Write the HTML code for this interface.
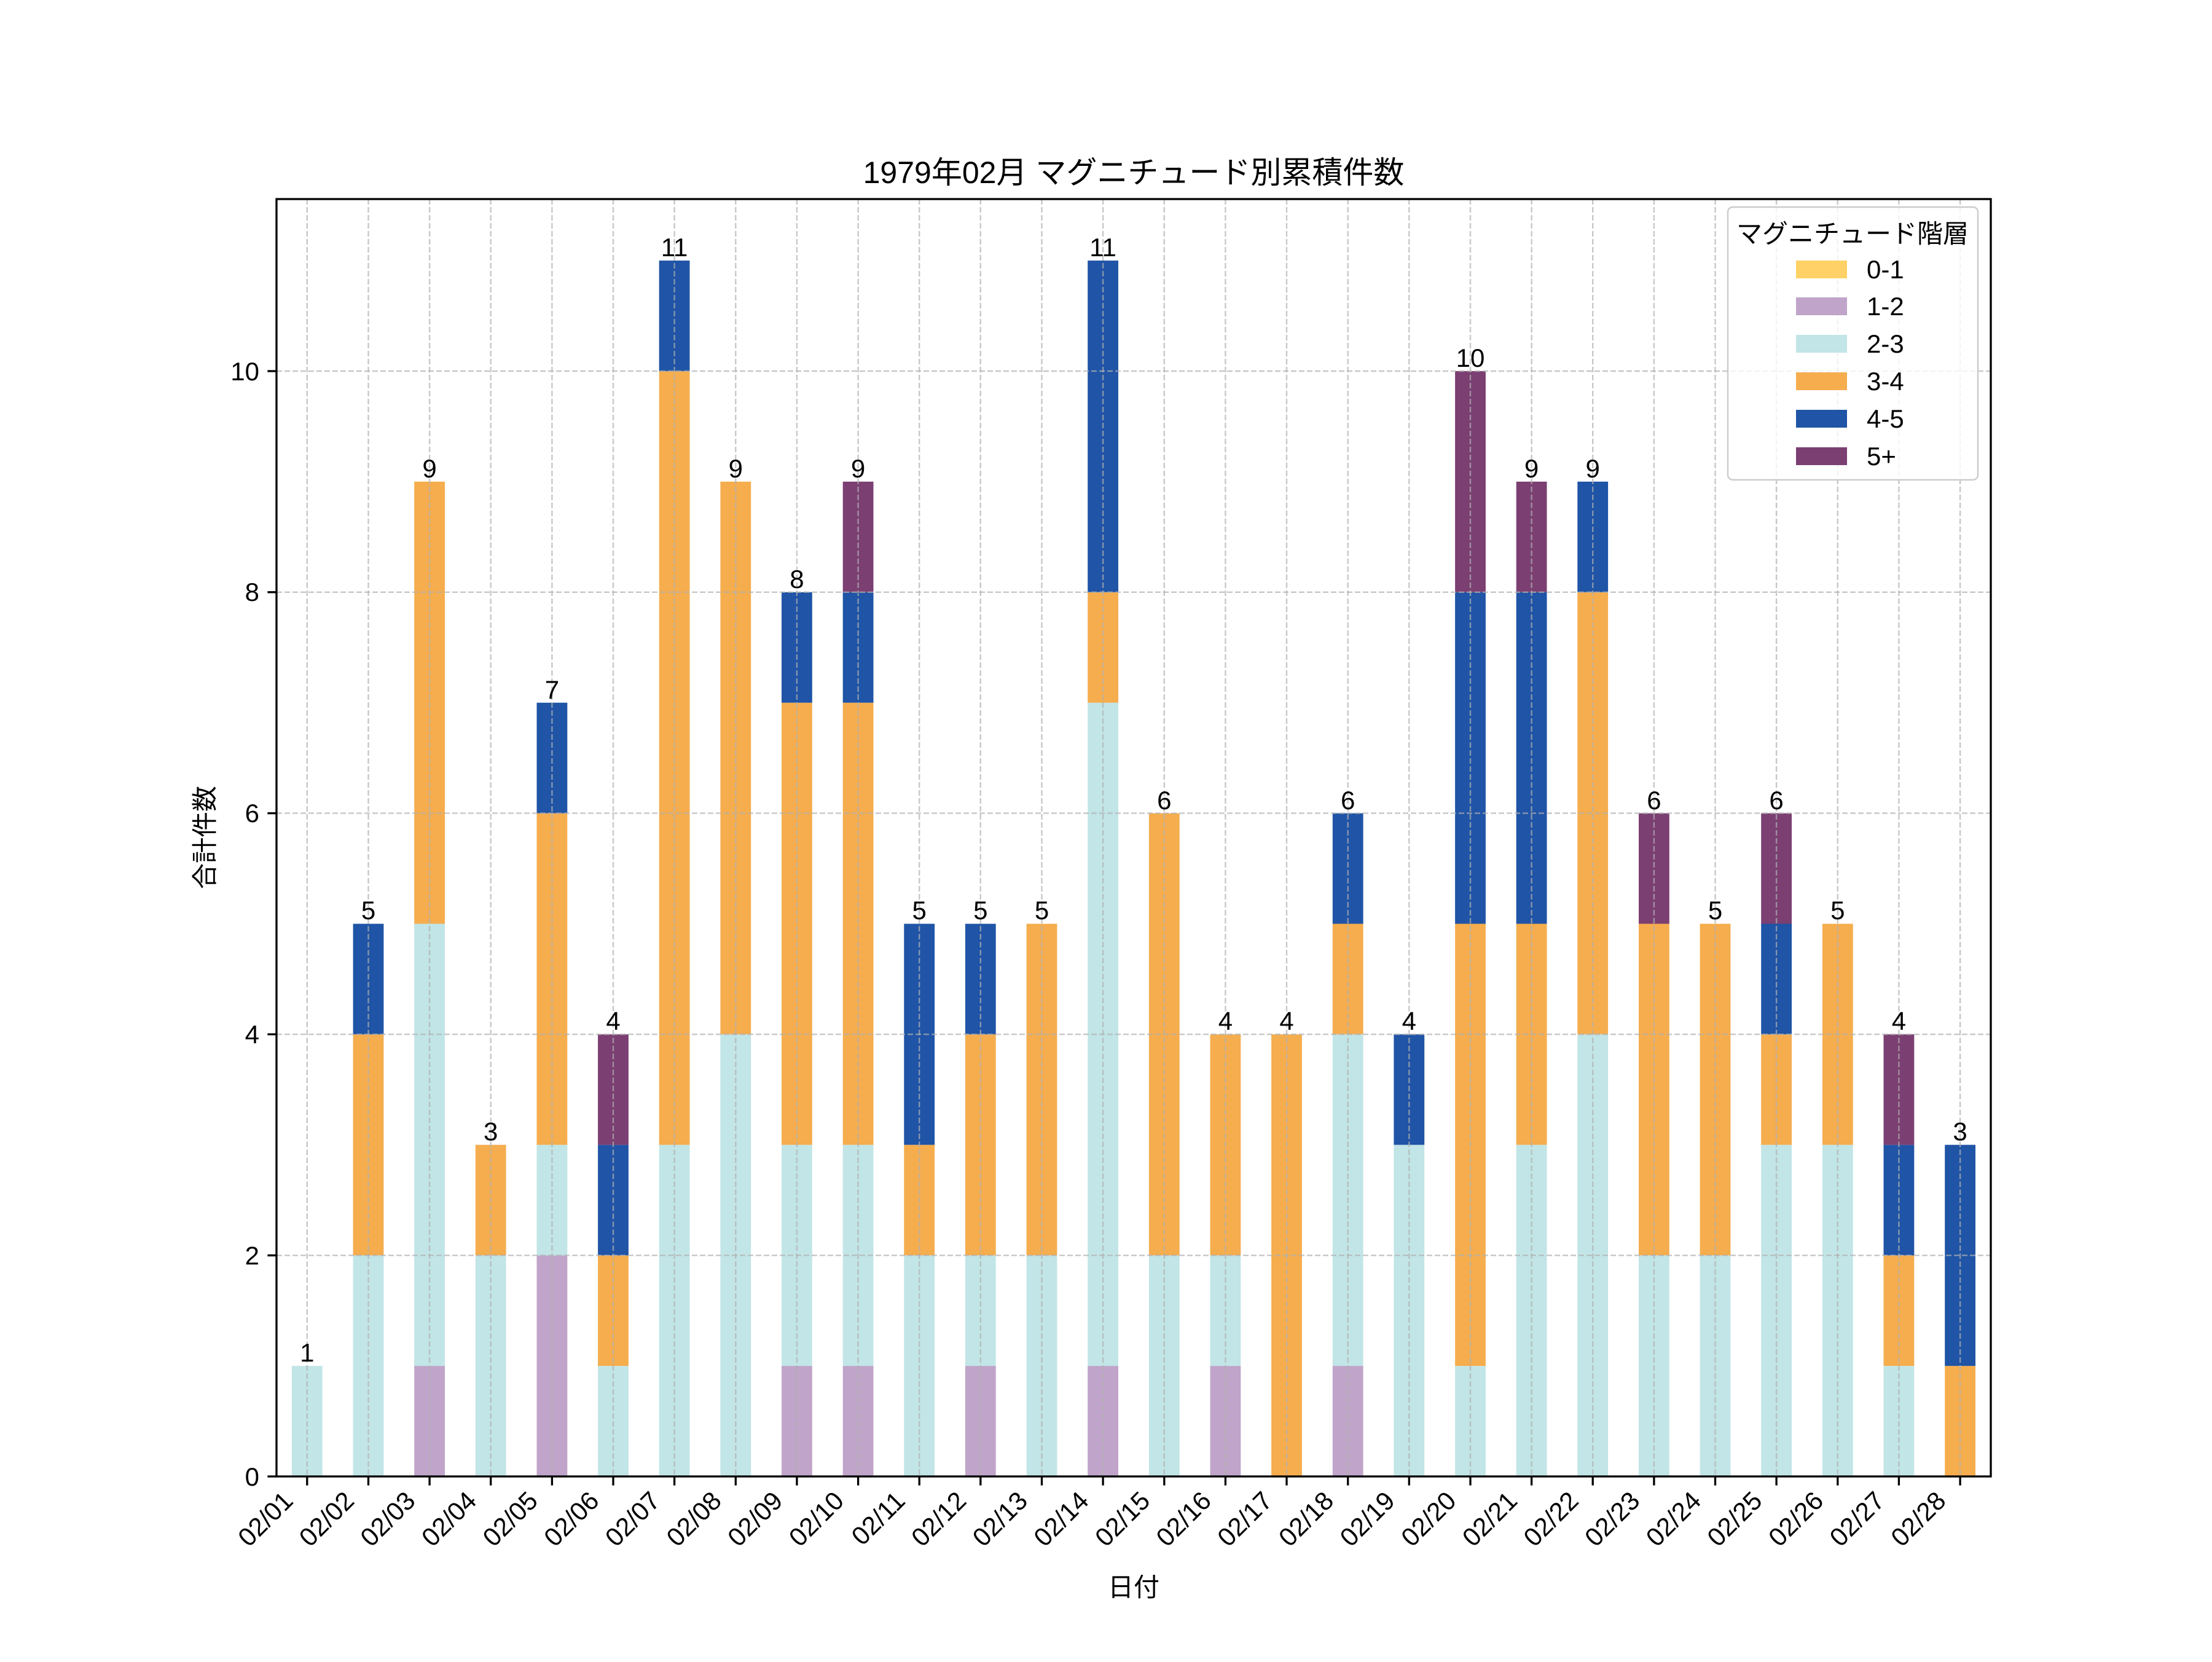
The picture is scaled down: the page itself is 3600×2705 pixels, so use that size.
<!DOCTYPE html>
<html><head><meta charset="utf-8"><style>
html,body{margin:0;padding:0;background:#fff}
svg text{font-family:"Liberation Sans","Noto Sans CJK JP",sans-serif;fill:#000}
.a{fill:#C0A4C9}.b{fill:#C2E5E7}.c{fill:#F5AD4E}.d{fill:#1F54A6}.e{fill:#7B3F72}
</style></head><body>
<svg width="3600" height="2700" viewBox="0 0 3600 2700" xmlns="http://www.w3.org/2000/svg">
<rect width="3600" height="2700" fill="#fff"/>
<g>
<g transform="translate(474.9,2403) scale(1,-179.9)"><rect class="b" x="0" y="0" width="49.8" height="1"/></g>
<g transform="translate(574.6,2403) scale(1,-179.9)"><rect class="b" x="0" y="0" width="49.8" height="2"/><rect class="c" x="0" y="2" width="49.8" height="2"/><rect class="d" x="0" y="4" width="49.8" height="1"/></g>
<g transform="translate(674.2,2403) scale(1,-179.9)"><rect class="a" x="0" y="0" width="49.8" height="1"/><rect class="b" x="0" y="1" width="49.8" height="4"/><rect class="c" x="0" y="5" width="49.8" height="4"/></g>
<g transform="translate(773.8,2403) scale(1,-179.9)"><rect class="b" x="0" y="0" width="49.8" height="2"/><rect class="c" x="0" y="2" width="49.8" height="1"/></g>
<g transform="translate(873.5,2403) scale(1,-179.9)"><rect class="a" x="0" y="0" width="49.8" height="2"/><rect class="b" x="0" y="2" width="49.8" height="1"/><rect class="c" x="0" y="3" width="49.8" height="3"/><rect class="d" x="0" y="6" width="49.8" height="1"/></g>
<g transform="translate(973.1,2403) scale(1,-179.9)"><rect class="b" x="0" y="0" width="49.8" height="1"/><rect class="c" x="0" y="1" width="49.8" height="1"/><rect class="d" x="0" y="2" width="49.8" height="1"/><rect class="e" x="0" y="3" width="49.8" height="1"/></g>
<g transform="translate(1072.7,2403) scale(1,-179.9)"><rect class="b" x="0" y="0" width="49.8" height="3"/><rect class="c" x="0" y="3" width="49.8" height="7"/><rect class="d" x="0" y="10" width="49.8" height="1"/></g>
<g transform="translate(1172.4,2403) scale(1,-179.9)"><rect class="b" x="0" y="0" width="49.8" height="4"/><rect class="c" x="0" y="4" width="49.8" height="5"/></g>
<g transform="translate(1272,2403) scale(1,-179.9)"><rect class="a" x="0" y="0" width="49.8" height="1"/><rect class="b" x="0" y="1" width="49.8" height="2"/><rect class="c" x="0" y="3" width="49.8" height="4"/><rect class="d" x="0" y="7" width="49.8" height="1"/></g>
<g transform="translate(1371.7,2403) scale(1,-179.9)"><rect class="a" x="0" y="0" width="49.8" height="1"/><rect class="b" x="0" y="1" width="49.8" height="2"/><rect class="c" x="0" y="3" width="49.8" height="4"/><rect class="d" x="0" y="7" width="49.8" height="1"/><rect class="e" x="0" y="8" width="49.8" height="1"/></g>
<g transform="translate(1471.3,2403) scale(1,-179.9)"><rect class="b" x="0" y="0" width="49.8" height="2"/><rect class="c" x="0" y="2" width="49.8" height="1"/><rect class="d" x="0" y="3" width="49.8" height="2"/></g>
<g transform="translate(1570.9,2403) scale(1,-179.9)"><rect class="a" x="0" y="0" width="49.8" height="1"/><rect class="b" x="0" y="1" width="49.8" height="1"/><rect class="c" x="0" y="2" width="49.8" height="2"/><rect class="d" x="0" y="4" width="49.8" height="1"/></g>
<g transform="translate(1670.6,2403) scale(1,-179.9)"><rect class="b" x="0" y="0" width="49.8" height="2"/><rect class="c" x="0" y="2" width="49.8" height="3"/></g>
<g transform="translate(1770.2,2403) scale(1,-179.9)"><rect class="a" x="0" y="0" width="49.8" height="1"/><rect class="b" x="0" y="1" width="49.8" height="6"/><rect class="c" x="0" y="7" width="49.8" height="1"/><rect class="d" x="0" y="8" width="49.8" height="3"/></g>
<g transform="translate(1869.9,2403) scale(1,-179.9)"><rect class="b" x="0" y="0" width="49.8" height="2"/><rect class="c" x="0" y="2" width="49.8" height="4"/></g>
<g transform="translate(1969.5,2403) scale(1,-179.9)"><rect class="a" x="0" y="0" width="49.8" height="1"/><rect class="b" x="0" y="1" width="49.8" height="1"/><rect class="c" x="0" y="2" width="49.8" height="2"/></g>
<g transform="translate(2069.1,2403) scale(1,-179.9)"><rect class="c" x="0" y="0" width="49.8" height="4"/></g>
<g transform="translate(2168.8,2403) scale(1,-179.9)"><rect class="a" x="0" y="0" width="49.8" height="1"/><rect class="b" x="0" y="1" width="49.8" height="3"/><rect class="c" x="0" y="4" width="49.8" height="1"/><rect class="d" x="0" y="5" width="49.8" height="1"/></g>
<g transform="translate(2268.4,2403) scale(1,-179.9)"><rect class="b" x="0" y="0" width="49.8" height="3"/><rect class="d" x="0" y="3" width="49.8" height="1"/></g>
<g transform="translate(2368.1,2403) scale(1,-179.9)"><rect class="b" x="0" y="0" width="49.8" height="1"/><rect class="c" x="0" y="1" width="49.8" height="4"/><rect class="d" x="0" y="5" width="49.8" height="3"/><rect class="e" x="0" y="8" width="49.8" height="2"/></g>
<g transform="translate(2467.7,2403) scale(1,-179.9)"><rect class="b" x="0" y="0" width="49.8" height="3"/><rect class="c" x="0" y="3" width="49.8" height="2"/><rect class="d" x="0" y="5" width="49.8" height="3"/><rect class="e" x="0" y="8" width="49.8" height="1"/></g>
<g transform="translate(2567.3,2403) scale(1,-179.9)"><rect class="b" x="0" y="0" width="49.8" height="4"/><rect class="c" x="0" y="4" width="49.8" height="4"/><rect class="d" x="0" y="8" width="49.8" height="1"/></g>
<g transform="translate(2667,2403) scale(1,-179.9)"><rect class="b" x="0" y="0" width="49.8" height="2"/><rect class="c" x="0" y="2" width="49.8" height="3"/><rect class="e" x="0" y="5" width="49.8" height="1"/></g>
<g transform="translate(2766.6,2403) scale(1,-179.9)"><rect class="b" x="0" y="0" width="49.8" height="2"/><rect class="c" x="0" y="2" width="49.8" height="3"/></g>
<g transform="translate(2866.2,2403) scale(1,-179.9)"><rect class="b" x="0" y="0" width="49.8" height="3"/><rect class="c" x="0" y="3" width="49.8" height="1"/><rect class="d" x="0" y="4" width="49.8" height="1"/><rect class="e" x="0" y="5" width="49.8" height="1"/></g>
<g transform="translate(2965.9,2403) scale(1,-179.9)"><rect class="b" x="0" y="0" width="49.8" height="3"/><rect class="c" x="0" y="3" width="49.8" height="2"/></g>
<g transform="translate(3065.5,2403) scale(1,-179.9)"><rect class="b" x="0" y="0" width="49.8" height="1"/><rect class="c" x="0" y="1" width="49.8" height="1"/><rect class="d" x="0" y="2" width="49.8" height="1"/><rect class="e" x="0" y="3" width="49.8" height="1"/></g>
<g transform="translate(3165.2,2403) scale(1,-179.9)"><rect class="c" x="0" y="0" width="49.8" height="1"/><rect class="d" x="0" y="1" width="49.8" height="2"/></g>
</g>
<!-- grid -->
<g stroke="#b0b0b0" stroke-opacity="0.7" stroke-width="2.4" stroke-dasharray="9,4">
<line x1="450" x2="3240" y1="2043.2" y2="2043.2"/><line x1="450" x2="3240" y1="1683.4" y2="1683.4"/><line x1="450" x2="3240" y1="1323.6" y2="1323.6"/><line x1="450" x2="3240" y1="963.8" y2="963.8"/><line x1="450" x2="3240" y1="604" y2="604"/>
<line x1="499.8" x2="499.8" y1="324" y2="2403"/><line x1="599.5" x2="599.5" y1="324" y2="2403"/><line x1="699.1" x2="699.1" y1="324" y2="2403"/><line x1="798.7" x2="798.7" y1="324" y2="2403"/><line x1="898.4" x2="898.4" y1="324" y2="2403"/><line x1="998" x2="998" y1="324" y2="2403"/><line x1="1097.6" x2="1097.6" y1="324" y2="2403"/><line x1="1197.3" x2="1197.3" y1="324" y2="2403"/><line x1="1296.9" x2="1296.9" y1="324" y2="2403"/><line x1="1396.6" x2="1396.6" y1="324" y2="2403"/><line x1="1496.2" x2="1496.2" y1="324" y2="2403"/><line x1="1595.8" x2="1595.8" y1="324" y2="2403"/><line x1="1695.5" x2="1695.5" y1="324" y2="2403"/><line x1="1795.1" x2="1795.1" y1="324" y2="2403"/><line x1="1894.8" x2="1894.8" y1="324" y2="2403"/><line x1="1994.4" x2="1994.4" y1="324" y2="2403"/><line x1="2094" x2="2094" y1="324" y2="2403"/><line x1="2193.7" x2="2193.7" y1="324" y2="2403"/><line x1="2293.3" x2="2293.3" y1="324" y2="2403"/><line x1="2393" x2="2393" y1="324" y2="2403"/><line x1="2492.6" x2="2492.6" y1="324" y2="2403"/><line x1="2592.2" x2="2592.2" y1="324" y2="2403"/><line x1="2691.9" x2="2691.9" y1="324" y2="2403"/><line x1="2791.5" x2="2791.5" y1="324" y2="2403"/><line x1="2891.1" x2="2891.1" y1="324" y2="2403"/><line x1="2990.8" x2="2990.8" y1="324" y2="2403"/><line x1="3090.4" x2="3090.4" y1="324" y2="2403"/><line x1="3190.1" x2="3190.1" y1="324" y2="2403"/>
</g>
<rect x="450" y="324" width="2790" height="2079" fill="none" stroke="#000" stroke-width="3.3"/>
<!-- ticks -->
<g stroke="#000" stroke-width="3.3">
<line x1="450" x2="435.4" y1="2403" y2="2403"/><line x1="450" x2="435.4" y1="2043.2" y2="2043.2"/><line x1="450" x2="435.4" y1="1683.4" y2="1683.4"/><line x1="450" x2="435.4" y1="1323.6" y2="1323.6"/><line x1="450" x2="435.4" y1="963.8" y2="963.8"/><line x1="450" x2="435.4" y1="604" y2="604"/>
</g>
<g font-size="42" text-anchor="end">
<text x="422" y="2418">0</text><text x="422" y="2058">2</text><text x="422" y="1698">4</text><text x="422" y="1338">6</text><text x="422" y="978">8</text><text x="422" y="619">10</text>
</g>
<g font-size="42" text-anchor="middle">
<text x="499.8" y="2216">1</text><text x="599.5" y="1496">5</text><text x="699.1" y="777">9</text><text x="798.7" y="1856">3</text><text x="898.4" y="1137">7</text><text x="998" y="1676">4</text><text x="1097.6" y="417">11</text><text x="1197.3" y="777">9</text><text x="1296.9" y="957">8</text><text x="1396.6" y="777">9</text><text x="1496.2" y="1496">5</text><text x="1595.8" y="1496">5</text><text x="1695.5" y="1496">5</text><text x="1795.1" y="417">11</text><text x="1894.8" y="1317">6</text><text x="1994.4" y="1676">4</text><text x="2094" y="1676">4</text><text x="2193.7" y="1317">6</text><text x="2293.3" y="1676">4</text><text x="2393" y="597">10</text><text x="2492.6" y="777">9</text><text x="2592.2" y="777">9</text><text x="2691.9" y="1317">6</text><text x="2791.5" y="1496">5</text><text x="2891.1" y="1317">6</text><text x="2990.8" y="1496">5</text><text x="3090.4" y="1676">4</text><text x="3190.1" y="1856">3</text>
</g>
<!-- x ticks & labels -->
<g stroke="#000" stroke-width="3.3">
<line x1="499.8" x2="499.8" y1="2403" y2="2417.6"/><line x1="599.5" x2="599.5" y1="2403" y2="2417.6"/><line x1="699.1" x2="699.1" y1="2403" y2="2417.6"/><line x1="798.7" x2="798.7" y1="2403" y2="2417.6"/><line x1="898.4" x2="898.4" y1="2403" y2="2417.6"/><line x1="998" x2="998" y1="2403" y2="2417.6"/><line x1="1097.6" x2="1097.6" y1="2403" y2="2417.6"/><line x1="1197.3" x2="1197.3" y1="2403" y2="2417.6"/><line x1="1296.9" x2="1296.9" y1="2403" y2="2417.6"/><line x1="1396.6" x2="1396.6" y1="2403" y2="2417.6"/><line x1="1496.2" x2="1496.2" y1="2403" y2="2417.6"/><line x1="1595.8" x2="1595.8" y1="2403" y2="2417.6"/><line x1="1695.5" x2="1695.5" y1="2403" y2="2417.6"/><line x1="1795.1" x2="1795.1" y1="2403" y2="2417.6"/><line x1="1894.8" x2="1894.8" y1="2403" y2="2417.6"/><line x1="1994.4" x2="1994.4" y1="2403" y2="2417.6"/><line x1="2094" x2="2094" y1="2403" y2="2417.6"/><line x1="2193.7" x2="2193.7" y1="2403" y2="2417.6"/><line x1="2293.3" x2="2293.3" y1="2403" y2="2417.6"/><line x1="2393" x2="2393" y1="2403" y2="2417.6"/><line x1="2492.6" x2="2492.6" y1="2403" y2="2417.6"/><line x1="2592.2" x2="2592.2" y1="2403" y2="2417.6"/><line x1="2691.9" x2="2691.9" y1="2403" y2="2417.6"/><line x1="2791.5" x2="2791.5" y1="2403" y2="2417.6"/><line x1="2891.1" x2="2891.1" y1="2403" y2="2417.6"/><line x1="2990.8" x2="2990.8" y1="2403" y2="2417.6"/><line x1="3090.4" x2="3090.4" y1="2403" y2="2417.6"/><line x1="3190.1" x2="3190.1" y1="2403" y2="2417.6"/>
</g>
<g font-size="42" text-anchor="end">
<text transform="translate(458,2424) rotate(-45)" y="30">02/01</text>
<text transform="translate(557.5,2424) rotate(-45)" y="30">02/02</text>
<text transform="translate(657.1,2424) rotate(-45)" y="30">02/03</text>
<text transform="translate(756.7,2424) rotate(-45)" y="30">02/04</text>
<text transform="translate(856.4,2424) rotate(-45)" y="30">02/05</text>
<text transform="translate(956,2424) rotate(-45)" y="30">02/06</text>
<text transform="translate(1055.6,2424) rotate(-45)" y="30">02/07</text>
<text transform="translate(1155.3,2424) rotate(-45)" y="30">02/08</text>
<text transform="translate(1254.9,2424) rotate(-45)" y="30">02/09</text>
<text transform="translate(1354.6,2424) rotate(-45)" y="30">02/10</text>
<text transform="translate(1454.2,2424) rotate(-45)" y="30">02/11</text>
<text transform="translate(1553.8,2424) rotate(-45)" y="30">02/12</text>
<text transform="translate(1653.5,2424) rotate(-45)" y="30">02/13</text>
<text transform="translate(1753.1,2424) rotate(-45)" y="30">02/14</text>
<text transform="translate(1852.8,2424) rotate(-45)" y="30">02/15</text>
<text transform="translate(1952.4,2424) rotate(-45)" y="30">02/16</text>
<text transform="translate(2052,2424) rotate(-45)" y="30">02/17</text>
<text transform="translate(2151.7,2424) rotate(-45)" y="30">02/18</text>
<text transform="translate(2251.3,2424) rotate(-45)" y="30">02/19</text>
<text transform="translate(2351,2424) rotate(-45)" y="30">02/20</text>
<text transform="translate(2450.6,2424) rotate(-45)" y="30">02/21</text>
<text transform="translate(2550.2,2424) rotate(-45)" y="30">02/22</text>
<text transform="translate(2649.9,2424) rotate(-45)" y="30">02/23</text>
<text transform="translate(2749.5,2424) rotate(-45)" y="30">02/24</text>
<text transform="translate(2849.1,2424) rotate(-45)" y="30">02/25</text>
<text transform="translate(2948.8,2424) rotate(-45)" y="30">02/26</text>
<text transform="translate(3048.4,2424) rotate(-45)" y="30">02/27</text>
<text transform="translate(3148.1,2424) rotate(-45)" y="30">02/28</text>
</g>
<text x="1845" y="2598" font-size="42" text-anchor="middle">日付</text>
<text transform="translate(348,1363) rotate(-90)" font-size="42" text-anchor="middle">合計件数</text>
<text x="1845" y="298" font-size="50" text-anchor="middle">1979年02月 マグニチュード別累積件数</text>
<!-- legend -->
<rect x="2812" y="337" width="407" height="444" rx="8" fill="#fff" fill-opacity="0.8" stroke="#ccc" stroke-width="2.4"/>
<text x="3015" y="395" font-size="42" text-anchor="middle">マグニチュード階層</text>
<rect x="2923" y="424" width="83" height="29" fill="#FFD166"/>
<rect x="2923" y="484" width="83" height="29" class="a"/>
<rect x="2923" y="545" width="83" height="29" class="b"/>
<rect x="2923" y="606" width="83" height="29" class="c"/>
<rect x="2923" y="667" width="83" height="29" class="d"/>
<rect x="2923" y="728" width="83" height="29" class="e"/>
<g font-size="42">
<text x="3038" y="453">0-1</text><text x="3038" y="513">1-2</text><text x="3038" y="574">2-3</text><text x="3038" y="635">3-4</text><text x="3038" y="696">4-5</text><text x="3038" y="757">5+</text>
</g>
</svg>
</body></html>
